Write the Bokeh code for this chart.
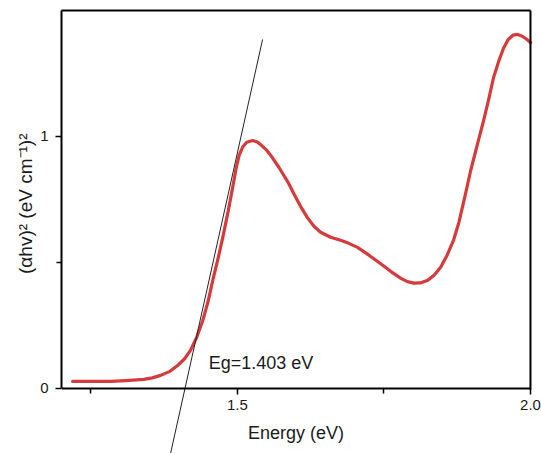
from bokeh.plotting import figure
from bokeh.models import Range1d, FixedTicker, Label, LinearAxis, Title
from bokeh.embed import file_html
from bokeh.resources import INLINE

# ---- data ----
energy = [1.219, 1.250, 1.284, 1.310, 1.340, 1.355, 1.369, 1.385, 1.398, 1.410,
          1.420, 1.431, 1.441, 1.450, 1.458, 1.467, 1.475, 1.484, 1.492, 1.498,
          1.503, 1.509, 1.516, 1.526, 1.534, 1.541, 1.549, 1.557, 1.571, 1.586,
          1.597, 1.608, 1.620, 1.631, 1.642, 1.659, 1.676, 1.690, 1.705, 1.725,
          1.744, 1.762, 1.779, 1.790, 1.801, 1.812, 1.825, 1.836, 1.847, 1.858,
          1.869, 1.878, 1.888, 1.898, 1.909, 1.920, 1.929, 1.937, 1.946, 1.954,
          1.962, 1.970, 1.978, 1.986, 1.993, 2.000]
absorb = [0.028, 0.028, 0.028, 0.031, 0.036, 0.042, 0.052, 0.068, 0.091, 0.118,
          0.151, 0.205, 0.270, 0.345, 0.429, 0.515, 0.599, 0.700, 0.798, 0.875,
          0.925, 0.958, 0.977, 0.984, 0.978, 0.965, 0.948, 0.925, 0.877, 0.820,
          0.770, 0.722, 0.676, 0.643, 0.620, 0.600, 0.588, 0.576, 0.560, 0.528,
          0.496, 0.464, 0.437, 0.424, 0.418, 0.419, 0.430, 0.450, 0.482, 0.530,
          0.590, 0.660, 0.760, 0.865, 0.965, 1.063, 1.150, 1.234, 1.300, 1.350,
          1.385, 1.402, 1.405, 1.398, 1.387, 1.373]
tangent_x = [1.386, 1.543]
tangent_y = [-0.258, 1.385]
x_ticks = [1.5, 2.0]
x_minor = [1.25, 1.75]
y_ticks = [0, 1]
y_minor = [0.5]
x_bounds = (1.2, 2.0)
y_bounds = (0, 1.5)
eg_text = "Eg=1.403 eV"
eg_pos = (1.451, 0.06)
x_title = "Energy (eV)"
y_title = "(αhv)² (eV cm⁻¹)²"

FONT = "Liberation Sans"

# y-axis title as a left-side title, so it can be centred on the axis box
ytitle = Title(text=y_title, align="right", offset=123, standoff=4,
               text_font=FONT, text_font_size="19px",
               text_font_style="normal", text_color="#1a1a1a")

# frame reaches the bottom/right of the page so the tangent line and the
# "2.0" label can extend past the axis box
p = figure(width=541, height=453, output_backend="svg", toolbar_location=None,
           x_range=Range1d(x_bounds[0], 2.0188),
           y_range=Range1d(tangent_y[0], y_bounds[1]),
           min_border_left=61, min_border_right=0, min_border_top=10,
           min_border_bottom=0, title=ytitle, title_location="left")
p.background_fill_color = "white"
p.border_fill_color = "white"
p.outline_line_color = None
p.xgrid.visible = False
p.ygrid.visible = False

p.line(energy, absorb, line_color="#d63b3b", line_width=3.2,
       line_join="round", line_cap="round")
p.line(tangent_x, tangent_y, line_color="#222222", line_width=1)

# right edge of the axis box
p.line([x_bounds[1], x_bounds[1]], list(y_bounds), line_color="black",
       line_width=2, line_cap="square")

p.add_layout(Label(x=eg_pos[0], y=eg_pos[1], text=eg_text, text_font=FONT,
                   text_font_size="18px", text_color="#1a1a1a"))

p.xaxis.ticker = FixedTicker(ticks=x_ticks, minor_ticks=x_minor)
p.yaxis.ticker = FixedTicker(ticks=y_ticks, minor_ticks=y_minor)
p.xaxis.fixed_location = y_bounds[0]
p.xaxis.bounds = x_bounds
p.yaxis.bounds = y_bounds
p.xaxis.major_label_overrides = {1.5: "1.5", 2.0: "2.0"}
p.yaxis.major_label_overrides = {0: "0", 1: "1"}
p.xaxis.axis_label = x_title

for ax in (p.xaxis[0], p.yaxis[0]):
    ax.axis_line_width = 2
    ax.axis_line_color = "black"
    ax.major_tick_line_width = 1.5
    ax.minor_tick_line_width = 1.5
    ax.major_tick_in = 0
    ax.major_tick_out = 6
    ax.minor_tick_in = 0
    ax.minor_tick_out = 5
    ax.major_label_text_font = FONT
    ax.major_label_text_font_size = "15px"
    ax.major_label_text_color = "#1a1a1a"
    ax.axis_label_text_font = FONT
    ax.axis_label_text_font_size = "18px"
    ax.axis_label_text_font_style = "normal"
    ax.axis_label_text_color = "#1a1a1a"

p.xaxis.major_label_standoff = 6
p.xaxis.axis_label_standoff = 9
p.yaxis.major_label_standoff = 7

# plain border line on top of the plot box
top_axis = LinearAxis(ticker=FixedTicker(ticks=[]), bounds=x_bounds,
                      axis_line_width=2, axis_line_color="black",
                      major_tick_line_color=None, minor_tick_line_color=None,
                      major_label_text_font_size="0px")
p.add_layout(top_axis, "above")

open("out.html", "w").write(file_html(p, INLINE))
